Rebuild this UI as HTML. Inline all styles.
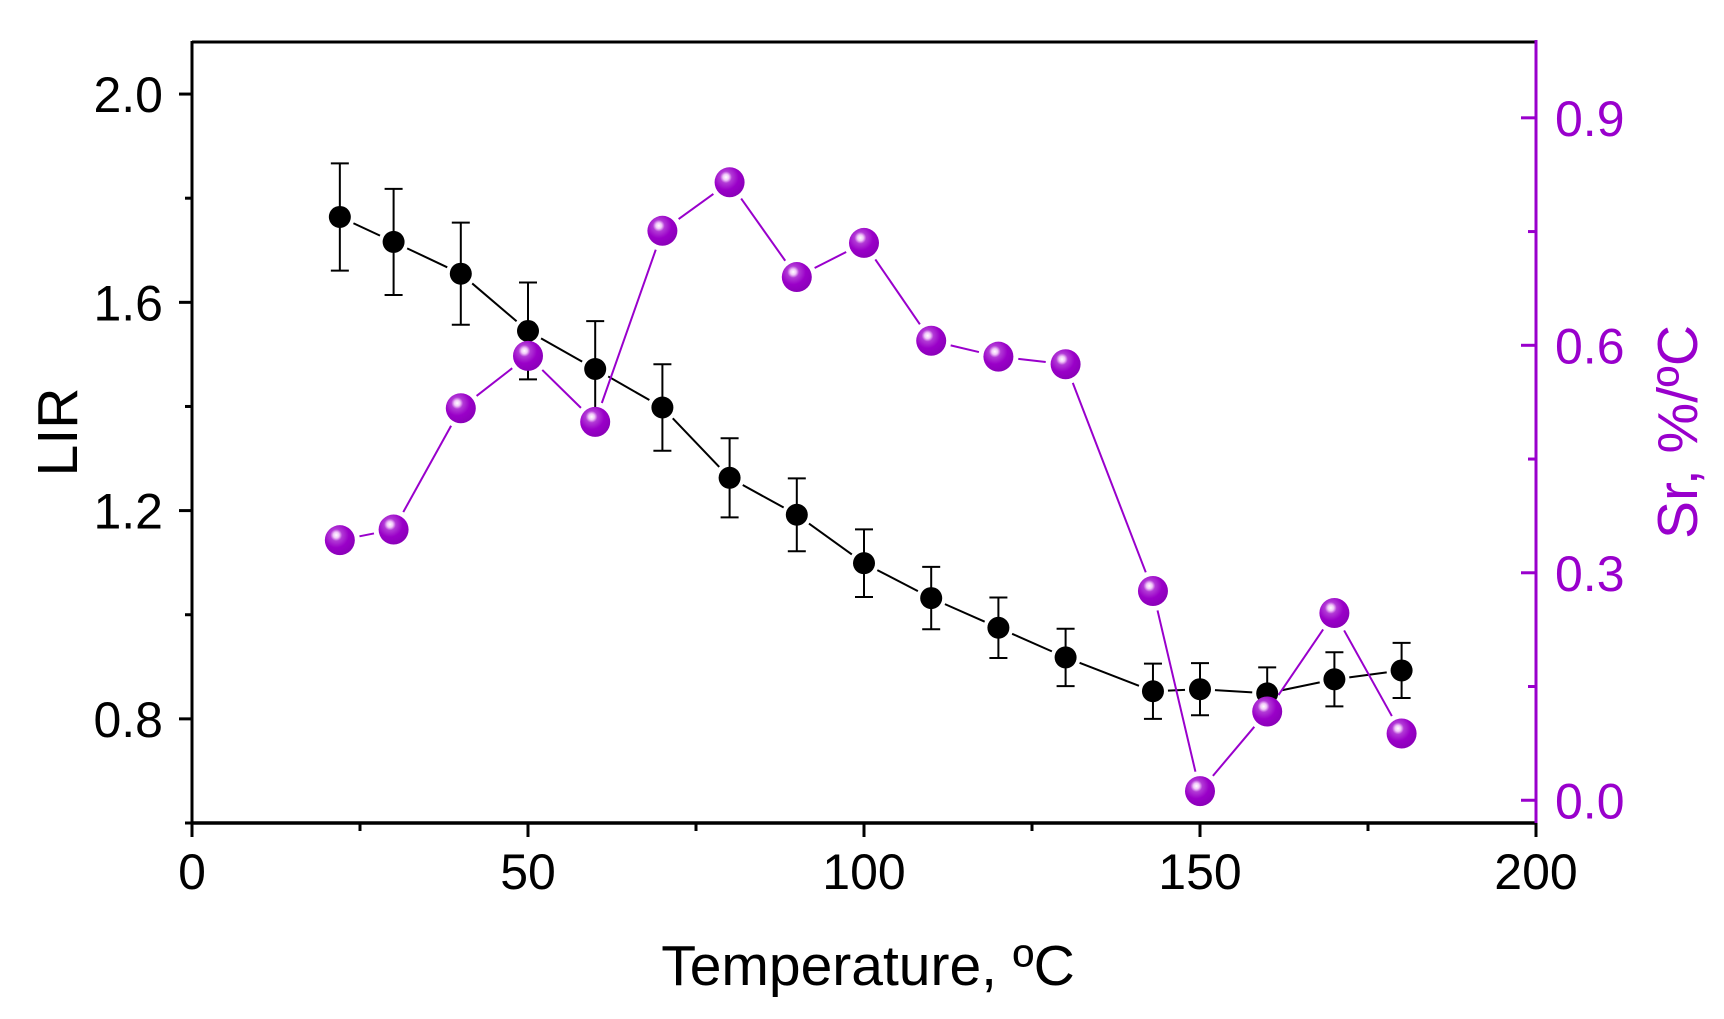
<!DOCTYPE html>
<html><head><meta charset="utf-8"><style>
html,body{margin:0;padding:0;background:#fff;}
svg{display:block;font-family:"Liberation Sans",Arial,sans-serif;}
</style></head><body>
<svg id="chart" width="1724" height="1019" viewBox="0 0 1724 1019" xmlns="http://www.w3.org/2000/svg">
<defs>
<radialGradient id="sph" cx="0.38" cy="0.33" r="0.7">
<stop offset="0" stop-color="#ffffff"/>
<stop offset="0.14" stop-color="#f0c8f8"/>
<stop offset="0.28" stop-color="#b23ad6"/>
<stop offset="0.6" stop-color="#9a00c8"/>
<stop offset="1" stop-color="#8a00b8"/>
</radialGradient>
</defs>
<g id="plot"></g>
</svg>
<script>
const temps=[22,30,40,50,60,70,80,90,100,110,120,130,143,150,160,170,180];
const lirValues=[1.764,1.716,1.655,1.545,1.472,1.398,1.263,1.192,1.099,1.032,0.975,0.918,0.853,0.857,0.849,0.876,0.893];
const lirErrors=[0.103,0.102,0.098,0.093,0.092,0.083,0.076,0.07,0.065,0.06,0.058,0.055,0.053,0.05,0.05,0.052,0.053];
const srValues=[0.343,0.357,0.517,0.586,0.499,0.751,0.815,0.690,0.735,0.606,0.585,0.575,0.276,0.012,0.117,0.247,0.088];
const xTicks=[0,50,100,150,200];
const yLeftTicks=[0.8,1.2,1.6,2.0];
const yRightTicks=[0.0,0.3,0.6,0.9];

const L=192,R=1536,T=42,B=823;
const PURPLE='#9900cc';
const xS=v=>L+(v-0)/(200-0)*(R-L);
const yL=v=>B-(v-0.6)/(2.1-0.6)*(B-T);
const yR=v=>B-(v+0.03)/(1.0+0.03)*(B-T);
const NS='http://www.w3.org/2000/svg';
const g=document.getElementById('plot');
function mk(tag,attrs,parent){const e=document.createElementNS(NS,tag);for(const k in attrs)e.setAttribute(k,attrs[k]);(parent||g).appendChild(e);return e;}
function txt(s,x,y,size,color,anchor,rot){
  const t=mk('text',{'font-size':size,fill:color,'text-anchor':anchor,transform:`translate(${x},${y}) ${rot?'rotate(-90)':''}`});
  t.textContent=s;return t;
}
function seg(x1,y1,x2,y2,gap,color,w){
  const dx=x2-x1,dy=y2-y1,d=Math.hypot(dx,dy);if(d<=2*gap)return null;
  const ux=dx/d,uy=dy/d;
  return mk('line',{x1:x1+ux*gap,y1:y1+uy*gap,x2:x2-ux*gap,y2:y2-uy*gap,stroke:color,'stroke-width':w});
}
let e;
e=mk('line',{x1:L,y1:T,x2:R,y2:T,stroke:'#000','stroke-width':3});

e=mk('line',{x1:L,y1:T-1,x2:L,y2:B+1,stroke:'#000','stroke-width':3});

e=mk('line',{x1:L,y1:B,x2:R,y2:B,stroke:'#000','stroke-width':3.5});

e=mk('line',{x1:R,y1:T-2,x2:R,y2:B+14,stroke:PURPLE,'stroke-width':3});

for(let v=0;v<=200;v+=25){const maj=v%50===0;mk('line',{x1:xS(v),y1:B,x2:xS(v),y2:B+(maj?14:8),stroke:'#000','stroke-width':3});}
xTicks.forEach(v=>{e=txt(String(v),xS(v),889,50,'#000','middle');
});
for(let v=0.6;v<=2.101;v+=0.2){const maj=Math.abs(Math.round(v*10)%4)===0;mk('line',{x1:L,y1:yL(v),x2:L-(maj?13:7),y2:yL(v),stroke:'#000','stroke-width':3});}
yLeftTicks.forEach(v=>{e=txt(v.toFixed(1),163,yL(v)+18,50,'#000','end');
});
for(let v=0;v<=0.9001;v+=0.15){const maj=Math.round(v*100)%30===0;mk('line',{x1:R,y1:yR(v),x2:R-(maj?15:8),y2:yR(v),stroke:PURPLE,'stroke-width':3});}
yRightTicks.forEach(v=>{e=txt(v.toFixed(1),1555,yR(v)+18,50,PURPLE,'start');
});
e=txt('Temperature, \u00BAC',868,985,57,'#000','middle');

e=txt('LIR',77,432,57,'#000','middle',true);

e=txt('Sr, %/\u00BAC',1697,432,57,PURPLE,'middle',true);

for(let i=0;i<temps.length-1;i++){e=seg(xS(temps[i]),yL(lirValues[i]),xS(temps[i+1]),yL(lirValues[i+1]),15,'#000',2);
if(e){}}
temps.forEach((t,i)=>{
  const x=xS(t),y1=yL(lirValues[i]+lirErrors[i]),y2=yL(lirValues[i]-lirErrors[i]);
  const eb=mk('path',{d:`M${x},${y1}V${y2}M${x-9},${y1}H${x+9}M${x-9},${y2}H${x+9}`,stroke:'#000','stroke-width':2,fill:'none'});
  
  
  const c=mk('circle',{cx:x,cy:yL(lirValues[i]),r:11,fill:'#000'});
  
  
});
for(let i=0;i<temps.length-1;i++){e=seg(xS(temps[i]),yR(srValues[i]),xS(temps[i+1]),yR(srValues[i+1]),20,PURPLE,2);
if(e){}}
temps.forEach((t,i)=>{
  const c=mk('circle',{cx:xS(t),cy:yR(srValues[i]),r:15,fill:'url(#sph)'});
  
  
});
</script>
</body></html>
